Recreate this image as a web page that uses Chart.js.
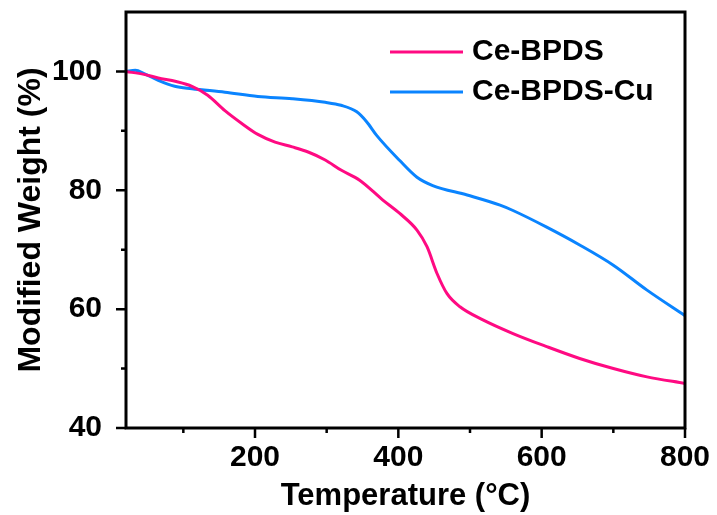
<!DOCTYPE html>
<html>
<head>
<meta charset="utf-8">
<script src="https://cdn.jsdelivr.net/npm/chart.js@4"></script>
<style>
  body { margin: 0; background: #fff; }
  #wrap { width: 717px; height: 515px; }
</style>
</head>
<body>
<div id="wrap"><canvas id="tga" width="717" height="515"></canvas></div>
<script>
// Ce-BPDS (pink)
const bpdsTemp = [20, 45, 65, 90, 112, 134, 158, 182, 204, 228, 252, 275, 298, 320, 346, 378, 402, 426, 440, 454, 468, 486, 518, 560, 607, 653, 700, 747, 800];
const bpdsWeight = [100, 99.5, 98.9, 98.3, 97.5, 96, 93.4, 91.2, 89.4, 88.1, 87.3, 86.4, 85.1, 83.4, 81.7, 78.4, 76.1, 73.3, 70.5, 66, 62.6, 60.4, 58.2, 55.9, 53.7, 51.7, 50, 48.6, 47.5];

// Ce-BPDS-Cu (blue)
const cuTemp = [20, 33, 46, 65, 88, 112, 158, 204, 252, 298, 320, 342, 356, 370, 402, 426, 448, 496, 542, 560, 607, 653, 700, 747, 800];
const cuWeight = [100, 100.2, 99.6, 98.5, 97.5, 97.1, 96.5, 95.8, 95.4, 94.8, 94.3, 93.2, 91.5, 89.2, 85, 82.2, 80.8, 79.2, 77.5, 76.6, 73.8, 70.8, 67.4, 63.2, 58.9];

const seriesLabels = ["Ce-BPDS", "Ce-BPDS-Cu"];
const xMajor = [200, 400, 600, 800];
const xMinor = [100, 300, 500, 700];
const yMajor = [40, 60, 80, 100];
const yMinor = [50, 70, 90];

const FONT = "'Liberation Sans', Arial, sans-serif";

const toPoints = (xs, ys) => xs.map((x, i) => ({ x: x, y: ys[i] }));

// frame, ticks and legend drawn on top
const framePlugin = {
  id: "frame",
  afterDraw(chart) {
    const ctx = chart.ctx;
    const a = chart.chartArea;
    const xs = chart.scales.x, ys = chart.scales.y;
    ctx.save();
    ctx.strokeStyle = "#000";
    ctx.lineWidth = 3;
    ctx.strokeRect(a.left, a.top, a.right - a.left, a.bottom - a.top);
    ctx.lineWidth = 2.5;
    ctx.beginPath();
    xMajor.forEach(v => { const p = xs.getPixelForValue(v); ctx.moveTo(p, a.bottom); ctx.lineTo(p, a.bottom + 10); });
    xMinor.forEach(v => { const p = xs.getPixelForValue(v); ctx.moveTo(p, a.bottom); ctx.lineTo(p, a.bottom + 5); });
    yMajor.forEach(v => { const p = ys.getPixelForValue(v); ctx.moveTo(a.left, p); ctx.lineTo(a.left - 10, p); });
    yMinor.forEach(v => { const p = ys.getPixelForValue(v); ctx.moveTo(a.left, p); ctx.lineTo(a.left - 5, p); });
    ctx.stroke();

    // legend
    ctx.font = "bold 30px " + FONT;
    ctx.textBaseline = "middle";
    ctx.fillStyle = "#000";
    chart.data.datasets.forEach((ds, i) => {
      const y = 52 + i * 40;
      ctx.strokeStyle = ds.borderColor;
      ctx.lineWidth = 3;
      ctx.beginPath();
      ctx.moveTo(390, y);
      ctx.lineTo(463, y);
      ctx.stroke();
      ctx.fillText(ds.label, 472, y);
    });
    ctx.restore();
  }
};

const noOverhang = s => { s.paddingTop = 0; s.paddingBottom = 0; s.paddingLeft = 0; s.paddingRight = 0; };

new Chart(document.getElementById("tga"), {
  type: "line",
  data: {
    datasets: [
      {
        label: seriesLabels[0],
        data: toPoints(bpdsTemp, bpdsWeight),
        borderColor: "#ff0a82",
        borderWidth: 3,
        pointRadius: 0,
        cubicInterpolationMode: "monotone",
        fill: false,
      },
      {
        label: seriesLabels[1],
        data: toPoints(cuTemp, cuWeight),
        borderColor: "#0a84ff",
        borderWidth: 3,
        pointRadius: 0,
        cubicInterpolationMode: "monotone",
        fill: false,
      },
    ],
  },
  options: {
    responsive: false,
    animation: false,
    layout: { padding: { left: 0, right: 32, top: 12, bottom: 0 } },
    plugins: {
      legend: { display: false },
      tooltip: { enabled: false },
    },
    scales: {
      x: {
        type: "linear",
        min: 20,
        max: 800,
        afterBuildTicks: s => { s.ticks = xMajor.map(v => ({ value: v })); },
        afterFit: s => { s.height = 87; noOverhang(s); },
        grid: { display: false },
        border: { display: false },
        ticks: { color: "#000", padding: 4, font: { family: FONT, size: 30, weight: "bold" } },
        title: {
          display: true,
          text: "Temperature (°C)",
          color: "#000",
          padding: { top: 0, bottom: 0 },
          font: { family: FONT, size: 31, weight: "bold" },
        },
      },
      y: {
        min: 40,
        max: 110,
        afterBuildTicks: s => { s.ticks = yMajor.map(v => ({ value: v })); },
        afterFit: s => { s.width = 126; noOverhang(s); },
        grid: { display: false },
        border: { display: false },
        ticks: { color: "#000", padding: 16, font: { family: FONT, size: 30, weight: "bold" } },
        title: {
          display: true,
          text: "Modified Weight (%)",
          color: "#000",
          padding: { top: 12, bottom: 0 },
          font: { family: FONT, size: 32, weight: "bold" },
        },
      },
    },
  },
  plugins: [framePlugin],
});
</script>
</body>
</html>
